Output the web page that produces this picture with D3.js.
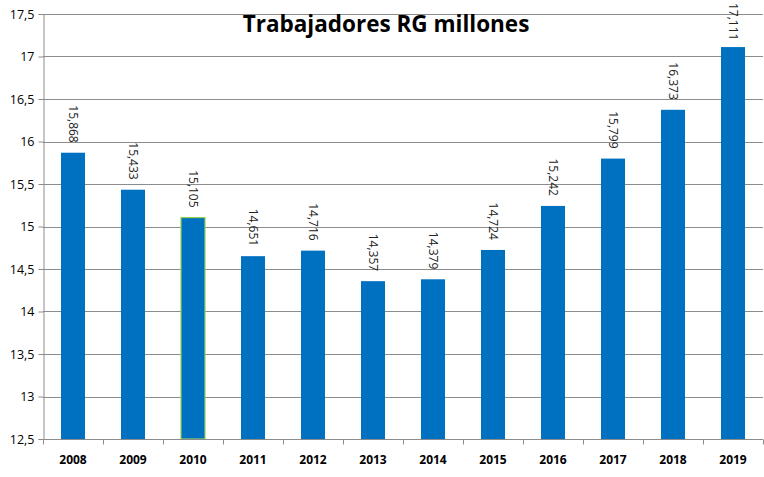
<!DOCTYPE html>
<html><head><meta charset="utf-8">
<script src="https://cdn.jsdelivr.net/npm/d3@7"></script>
<style>body{margin:0;background:#fff}svg{display:block}</style>
</head><body>
<svg id="c" width="764" height="477"></svg>
<script>
const years = ["2008","2009","2010","2011","2012","2013","2014","2015","2016","2017","2018","2019"];
const values = [15.868,15.433,15.105,14.651,14.716,14.357,14.379,14.724,15.242,15.799,16.373,17.111];
const yTicks = [12.5,13,13.5,14,14.5,15,15.5,16,16.5,17,17.5];
const title = "Trabajadores RG millones";
const highlighted = ["2010"];

const svg = d3.select("#c");
const m = {l:43, r:1, t:14, b:38};
const W = 764, H = 477;
const x = d3.scaleBand().domain(years).range([m.l, W - m.r]).paddingInner(0.6).paddingOuter(0.3);
const y = d3.scaleLinear().domain([12.5,17.5]).range([H - m.b, m.t]);
const fmt = v => String(v).replace(".", ",");
const font = "Open Sans, Liberation Sans, sans-serif";

// gridlines
svg.append("g").selectAll("line").data(yTicks.slice(1)).join("line")
  .attr("x1", m.l).attr("x2", W - m.r)
  .attr("y1", d => Math.round(y(d)) + 0.5).attr("y2", d => Math.round(y(d)) + 0.5)
  .attr("stroke", "#8c8c8c").attr("stroke-width", 1);

// y axis
const ya = svg.append("g").attr("transform", `translate(${m.l + 0.5},0)`)
  .call(d3.axisLeft(y).tickValues(yTicks).tickFormat(fmt).tickSize(5).tickPadding(4));
ya.select(".domain").attr("stroke", "#8c8c8c");
ya.selectAll(".tick line").attr("stroke", "#8c8c8c");
ya.selectAll("text").attr("font-family", font).attr("font-size", 12.5).attr("fill", "#000");

// bars
svg.append("g").selectAll("rect").data(years).join("rect")
  .attr("x", d => x(d)).attr("width", x.bandwidth())
  .attr("y", (d,i) => y(values[i])).attr("height", (d,i) => y(12.5) - y(values[i]))
  .attr("fill", "#0070c0")
  .attr("stroke", d => highlighted.includes(d) ? "#92d050" : "none")
  .attr("stroke-width", 1.2);

// x axis
const step = x.step();
const xa = svg.append("g").attr("transform", `translate(0,${y(12.5) + 0.5})`);
xa.append("line").attr("x1", m.l).attr("x2", W - m.r).attr("stroke", "#8c8c8c");
const boundaries = years.map(d => x(d) - (step - x.bandwidth())/2).concat([W - m.r]);
xa.selectAll("line.t").data(boundaries).join("line").attr("class","t")
  .attr("x1", d => Math.round(d) + 0.5).attr("x2", d => Math.round(d) + 0.5)
  .attr("y1", 0).attr("y2", 5).attr("stroke", "#8c8c8c");
xa.selectAll("text").data(years).join("text")
  .attr("x", d => x(d) + x.bandwidth()/2).attr("y", 24)
  .attr("text-anchor", "middle").attr("font-family", font).attr("font-weight", "bold")
  .attr("font-size", 12).attr("fill", "#000").text(d => d);

// value labels (rotated, kept inside the picture)
const labels = svg.append("g").selectAll("text").data(years).join("text")
  .attr("text-anchor", "end")
  .attr("font-family", font).attr("font-size", 12).attr("fill", "#222")
  .text((d,i) => fmt(values[i]));
labels.attr("transform", function(d,i) {
  const len = this.getComputedTextLength();
  const end = Math.max(y(values[i]) - 10, 3 + len);
  return `translate(${x(d) + x.bandwidth()/2 - 4},${end}) rotate(90)`;
});

// title
svg.append("text").attr("x", 386).attr("y", 32).attr("text-anchor", "middle")
  .attr("font-family", font).attr("font-weight", "bold").attr("font-size", 22.5)
  .attr("fill", "#000").text(title);
</script>
</body></html>
